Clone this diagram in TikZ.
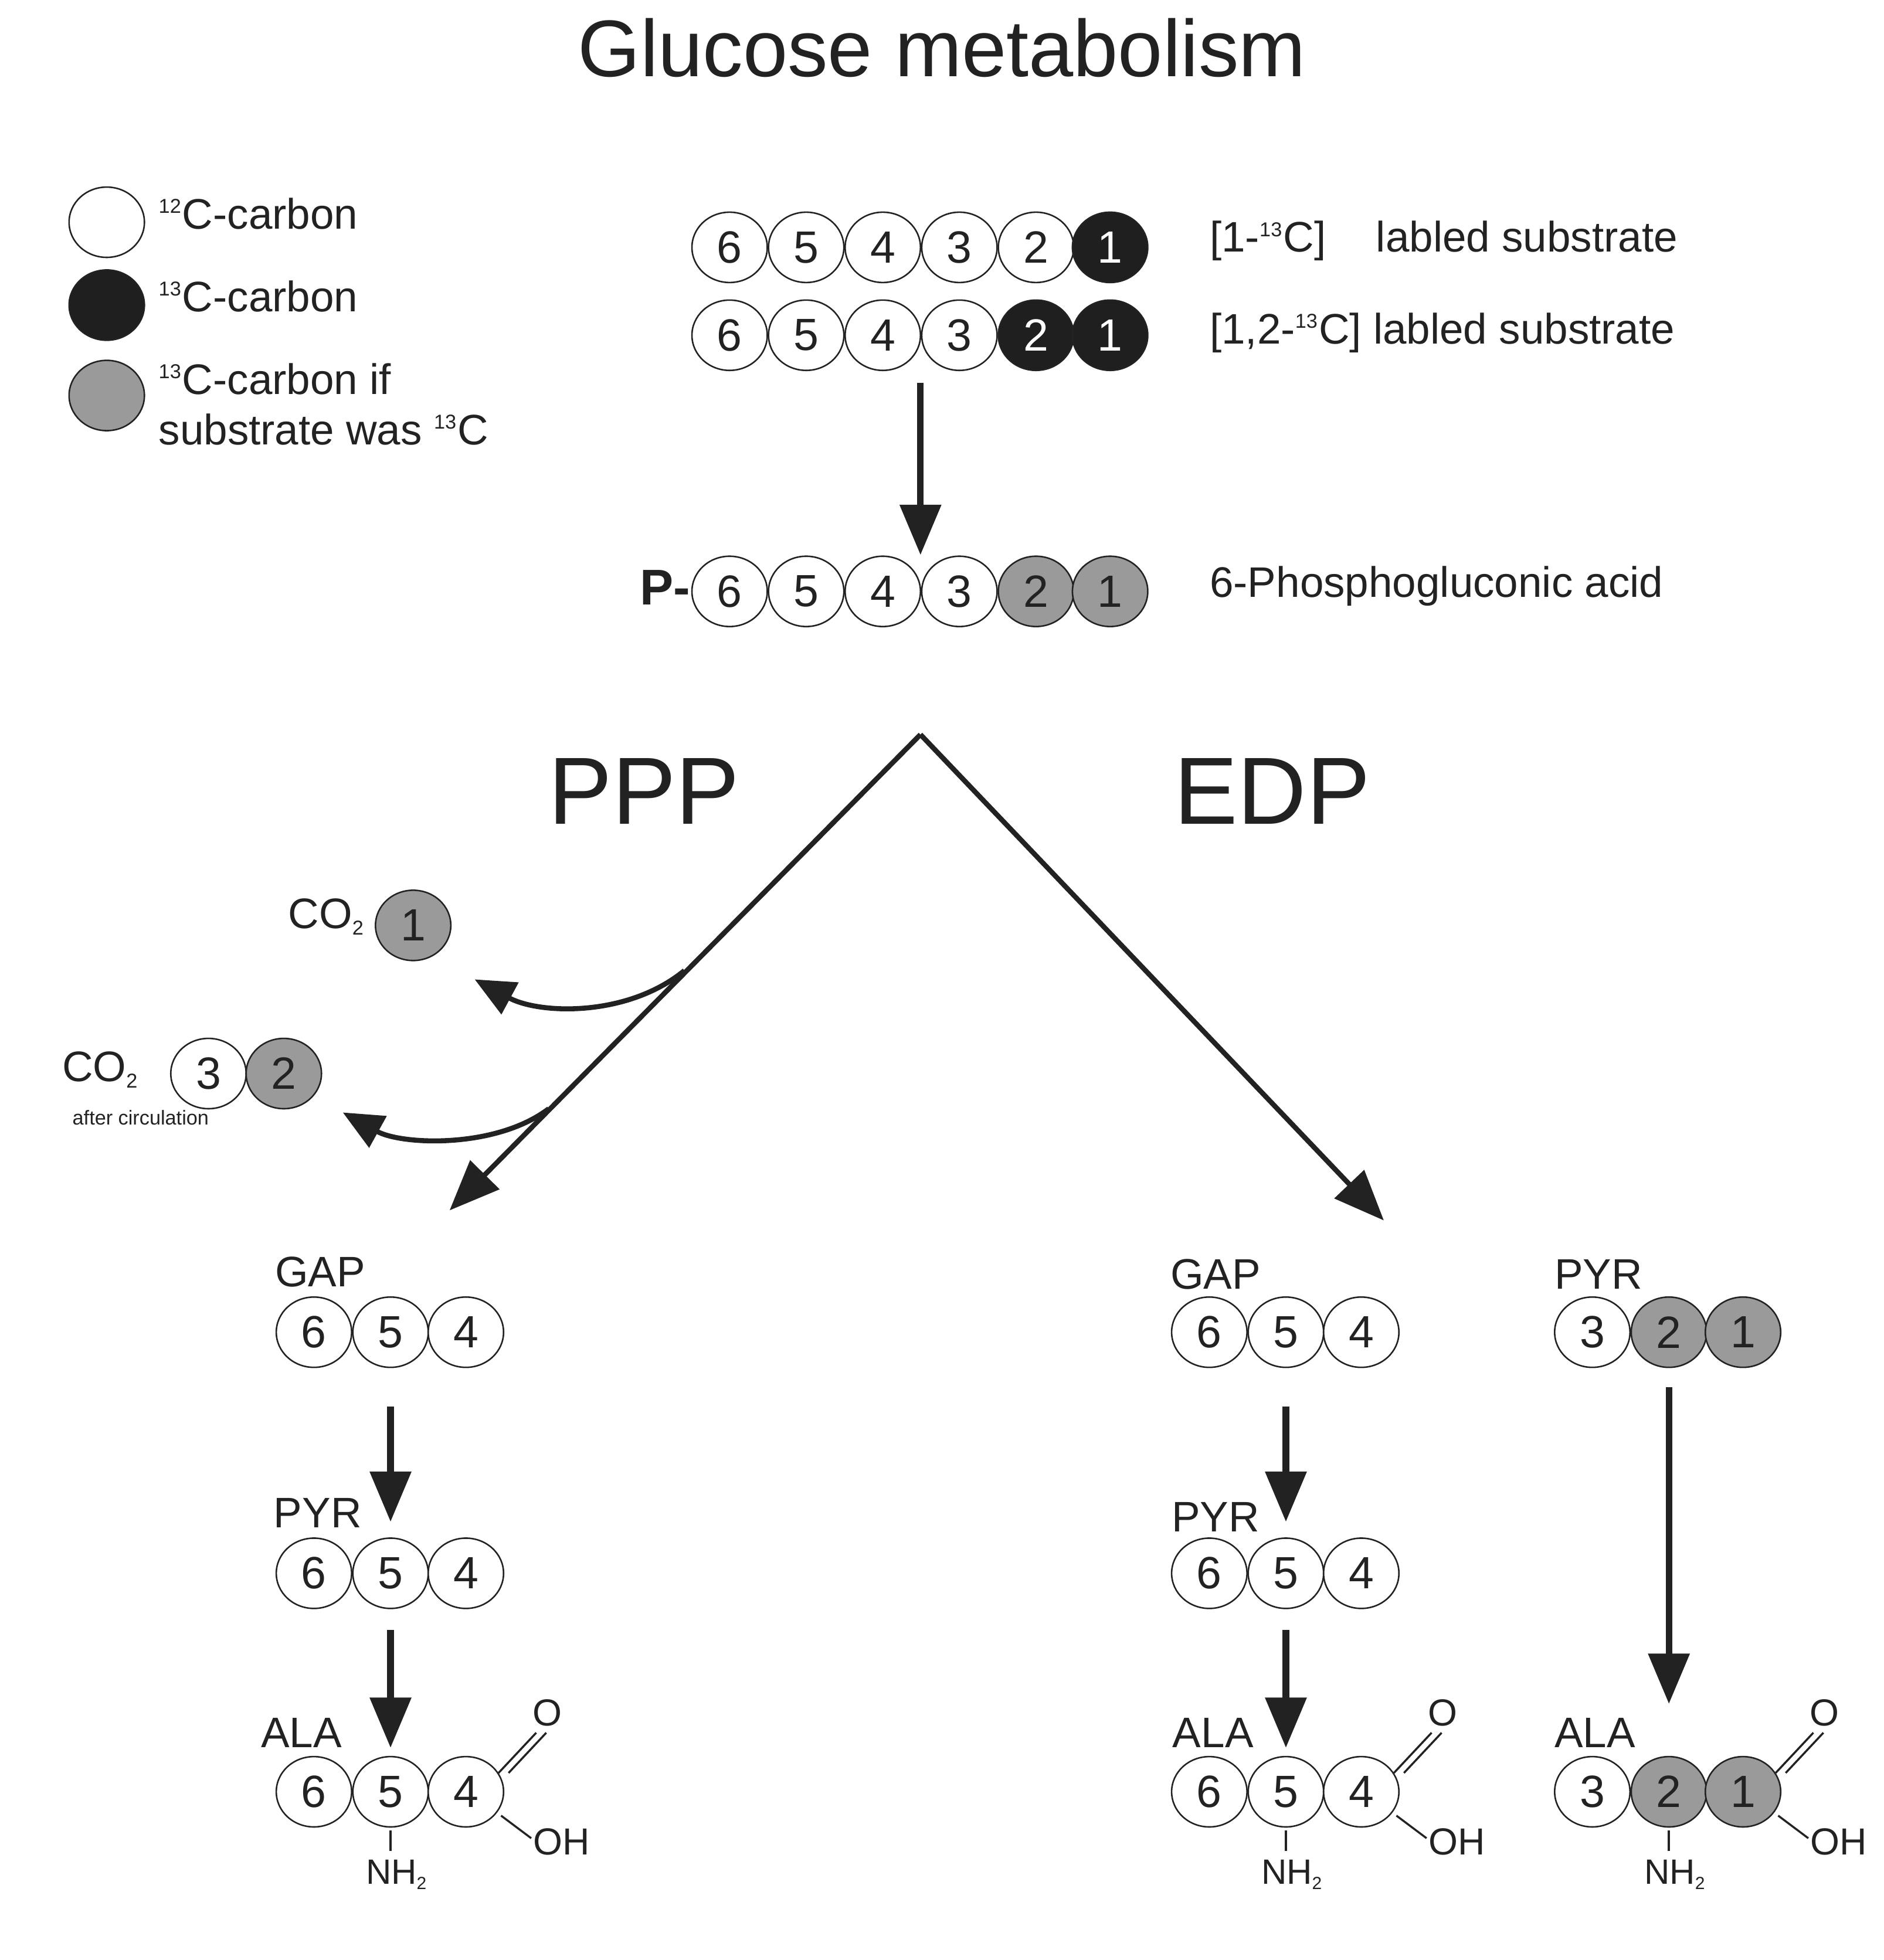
\documentclass[tikz,border=0pt]{standalone}
\usepackage{fontspec}
\setmainfont{Liberation Sans}
\usetikzlibrary{shapes.geometric,arrows.meta}
\definecolor{dk}{HTML}{222222}
\definecolor{gr}{HTML}{9A9A9A}
\tikzset{
 cw/.style={ellipse,draw=dk,line width=0.6pt,fill=white,minimum width=30pt,minimum height=28pt,inner sep=0pt,font=\fontsize{18}{18}\selectfont},
 cb/.style={cw,fill=black!88,text=white},
 cg/.style={cw,fill=gr},
 lbl/.style={font=\fontsize{17}{17}\selectfont,inner sep=0pt},
 big/.style={-{Triangle[length=20pt,width=16pt]},line width=2.6pt,draw=dk},
 curv/.style={-{Triangle[length=16pt,width=14pt]},line width=2pt,draw=dk},
 thin/.style={line width=0.8pt,draw=dk}
}
\newcommand{\isot}[1]{\textsuperscript{\fontsize{8}{8}\selectfont #1}}
\begin{document}
\begin{tikzpicture}[x=0.5pt,y=-0.5pt,every node/.style={text=dk}]
\useasboundingbox (0,0) rectangle (1500,1561);
\node[font=\fontsize{32}{32}\selectfont] (title) at (750,38) {Glucose metabolism};
% legend
\node[cw] (l1) at (85,177) {};
\node[cb] (l2) at (85,243) {};
\node[cg] (l3) at (85,315) {};
\node[lbl,anchor=west] (t1) at (126,170) {\isot{12}C-carbon};
\node[lbl,anchor=west] (t2) at (126,236) {\isot{13}C-carbon};
\node[lbl,anchor=west,align=left] (t3) at (126,322) {\isot{13}C-carbon if\\[3pt]substrate was \isot{13}C};
% substrates
\foreach \n/\x in {6/581,5/642,4/703,3/764}{
 \node[cw] (a\n) at (\x,197) {\n};
 \node[cw] (b\n) at (\x,267) {\n};
 \node[cw] (c\n) at (\x,471) {\n};
}
\node[cw] (a2) at (825,197) {2};
\node[cb] (a1) at (884,197) {1};
\node[cb] (b2) at (825,267) {2};
\node[cb] (b1) at (884,267) {1};
\node[cg] (c2) at (825,471) {2};
\node[cg] (c1) at (884,471) {1};
\node[font=\fontsize{20}{20}\selectfont\bfseries,anchor=east,inner sep=0pt] (P) at (550,468) {P-};
\node[lbl,anchor=west] (s1) at (963,192) {[1-\isot{13}C]\hspace{20pt}labled substrate};
\node[lbl,anchor=west] (s2) at (963,265) {[1,2-\isot{13}C] labled substrate};
\node[lbl,anchor=west] (s3) at (963,467) {6-Phosphogluconic acid};
\coordinate (d0) at (733,305);
\coordinate (d1) at (733,442);
\draw[big] (d0) -- (d1);
% V
\coordinate (apex) at (733,585);
\coordinate (le) at (358,964);
\coordinate (re) at (1102,972);
\draw[big,line width=2pt] (apex) -- (le);
\draw[big,line width=2pt] (apex) -- (re);
\node[font=\fontsize{38}{38}\selectfont] (ppp) at (513,630) {PPP};
\node[font=\fontsize{38}{38}\selectfont] (edp) at (1013,630) {EDP};
% CO2
\node[lbl] (co1) at (260,730) {CO\textsubscript{\fontsize{8}{8}\selectfont 2}};
\node[cg] (g1) at (329,737) {1};
\node[lbl] (co2) at (80,852) {CO\textsubscript{\fontsize{8}{8}\selectfont 2}};
\node[cw] (g3) at (166,855) {3};
\node[cg] (g2) at (226,855) {2};
\node[font=\fontsize{8}{8}\selectfont] (ac) at (112,890) {after circulation};
\coordinate (k1) at (545,773);
\coordinate (e1) at (378,780);
\coordinate (k2) at (437,883);
\coordinate (e2) at (273,886);
\draw[curv] (k1) .. controls (500,810) and (430,808) .. (e1);
\draw[curv] (k2) .. controls (395,915) and (320,912) .. (e2);
% columns
\foreach \p/\xa/\xb/\xc in {L/250/311/371,M/963/1024/1084}{
 \node[cw] (\p g6) at (\xa,1061) {6};
 \node[cw] (\p g5) at (\xb,1061) {5};
 \node[cw] (\p g4) at (\xc,1061) {4};
 \node[cw] (\p p6) at (\xa,1253) {6};
 \node[cw] (\p p5) at (\xb,1253) {5};
 \node[cw] (\p p4) at (\xc,1253) {4};
 \node[cw] (\p a6) at (\xa,1427) {6};
 \node[cw] (\p a5) at (\xb,1427) {5};
 \node[cw] (\p a4) at (\xc,1427) {4};
 \coordinate (\p u1) at (\xb,1120);
 \coordinate (\p u2) at (\xb,1212);
 \coordinate (\p u3) at (\xb,1298);
 \coordinate (\p u4) at (\xb,1392);
 \draw[big] (\p u1) -- (\p u2);
 \draw[big] (\p u3) -- (\p u4);
}
\node[cw] (Rg3) at (1268,1061) {3};
\node[cg] (Rg2) at (1329,1061) {2};
\node[cg] (Rg1) at (1388,1061) {1};
\node[cw] (Ra3) at (1268,1427) {3};
\node[cg] (Ra2) at (1329,1427) {2};
\node[cg] (Ra1) at (1388,1427) {1};
\coordinate (Ru1) at (1329,1105);
\coordinate (Ru2) at (1329,1357);
\draw[big] (Ru1) -- (Ru2);
% labels
\node[lbl] (n1) at (255,1013) {GAP};
\node[lbl] (n2) at (253,1205) {PYR};
\node[lbl] (n3) at (240,1380) {ALA};
\node[lbl] (n4) at (968,1015) {GAP};
\node[lbl] (n5) at (968,1208) {PYR};
\node[lbl] (n6) at (966,1380) {ALA};
\node[lbl] (n7) at (1273,1015) {PYR};
\node[lbl] (n8) at (1270,1380) {ALA};
% functional groups
\foreach \c/\xr in {La4/371,Ma4/1084,Ra1/1388}{
 \node[font=\fontsize{15}{15}\selectfont,inner sep=0pt] (\c O) at (\xr+65,1364) {O};
 \node[font=\fontsize{15}{15}\selectfont,inner sep=0pt] (\c OH) at (\xr+76,1467) {OH};
 \coordinate (\c s) at (\xr+26,1412);
 \coordinate (\c t) at (\xr+56,1380);
 \draw[thin] (\c s) -- (\c t);
 \draw[thin] ([xshift=4pt]\c s) -- ([xshift=4pt]\c t);
 \coordinate (\c h) at (\xr+28,1446);
 \coordinate (\c k) at (\xr+52,1464);
 \draw[thin] (\c h) -- (\c k);
}
\foreach \m/\xm in {La5/311,Ma5/1024,Ra2/1329}{
 \coordinate (\m v) at (\xm,1458);
 \coordinate (\m w) at (\xm,1474);
 \draw[thin] (\m v) -- (\m w);
 \node[font=\fontsize{14}{14}\selectfont] (\m nh) at (\xm+5,1493) {NH\textsubscript{\fontsize{7}{7}\selectfont 2}};
}
\end{tikzpicture}
\end{document}
